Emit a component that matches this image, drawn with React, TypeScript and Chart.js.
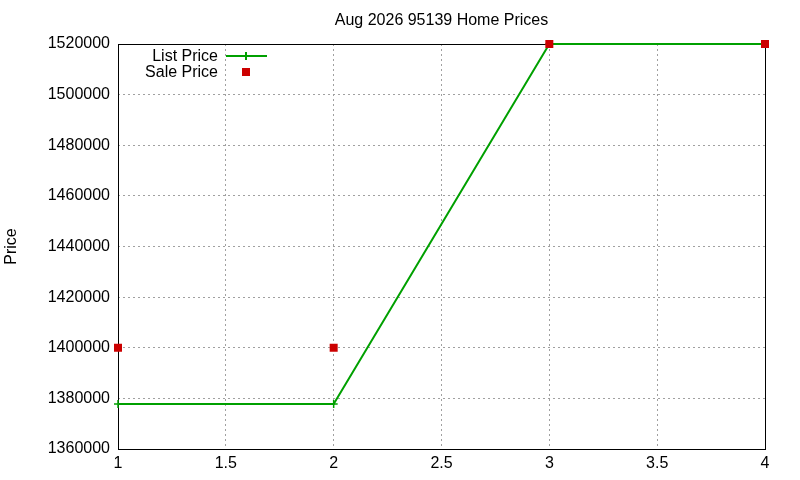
import { useEffect, useRef } from "react";
import { Chart, registerables } from "chart.js";

Chart.register(...registerables);

const chartTitle = "Aug 2026 95139 Home Prices";
const xValues = [1, 2, 3, 4];
const listPrices = [1377800, 1377800, 1520000, 1520000];
const salePrices = [1400000, 1400000, 1520000, 1520000];
const yTicks = [1360000, 1380000, 1400000, 1420000, 1440000, 1460000, 1480000, 1500000, 1520000];
const xTicks = [1, 1.5, 2, 2.5, 3, 3.5, 4];

const FONT = "'Liberation Sans', Arial, sans-serif";
const GREEN = "#00a000";
const RED = "#cc0000";

// gnuplot style box around the plot, drawn under the data
const borderBox = {
    id: "borderBox",
    beforeDatasetsDraw(chart: any) {
        const { ctx, chartArea } = chart;
        ctx.save();
        ctx.strokeStyle = "#000";
        ctx.lineWidth = 1;
        ctx.strokeRect(
            Math.round(chartArea.left) + 0.5,
            Math.round(chartArea.top) + 0.5,
            Math.round(chartArea.right - chartArea.left),
            Math.round(chartArea.bottom - chartArea.top)
        );
        ctx.restore();
    },
};

// title centred over the plot area, and the key in the top-left corner
const keyBox = {
    id: "keyBox",
    afterDraw(chart: any) {
        const { ctx, chartArea } = chart;
        const textRight = 218;
        const sampleX = 246;
        ctx.save();
        ctx.font = `16px ${FONT}`;
        ctx.fillStyle = "#000";
        ctx.textAlign = "center";
        ctx.textBaseline = "middle";
        ctx.fillText(chartTitle, (chartArea.left + chartArea.right) / 2, 21);

        ctx.textAlign = "right";
        ctx.fillText(chart.data.datasets[0].label, textRight, 57);
        ctx.fillText(chart.data.datasets[1].label, textRight, 73);

        ctx.strokeStyle = GREEN;
        ctx.lineWidth = 2;
        ctx.beginPath();
        ctx.moveTo(226, 56);
        ctx.lineTo(267, 56);
        ctx.moveTo(sampleX, 52);
        ctx.lineTo(sampleX, 60);
        ctx.stroke();

        ctx.fillStyle = RED;
        ctx.fillRect(sampleX - 4, 68, 8, 8);
        ctx.restore();
    },
};

export default function App() {
    const canvasRef = useRef<HTMLCanvasElement>(null);

    useEffect(() => {
        document.body.style.margin = "0";
        const ctx = canvasRef.current?.getContext("2d");
        if (!ctx) return;

        const chart = new Chart(ctx, {
            type: "scatter",
            data: {
                datasets: [
                    {
                        label: "List Price",
                        data: xValues.map((x, i) => ({ x, y: listPrices[i] })),
                        showLine: true,
                        borderColor: GREEN,
                        backgroundColor: GREEN,
                        borderWidth: 2,
                        pointStyle: "cross",
                        pointRadius: 4,
                        pointBorderWidth: 1.5,
                        pointBorderColor: GREEN,
                        clip: false,
                        order: 1,
                    },
                    {
                        label: "Sale Price",
                        data: xValues.map((x, i) => ({ x, y: salePrices[i] })),
                        showLine: false,
                        pointStyle: "rect",
                        pointRadius: 5.66,
                        pointBackgroundColor: RED,
                        pointBorderWidth: 0,
                        clip: false,
                        order: 0,
                    },
                ],
            },
            options: {
                animation: false,
                responsive: false,
                layout: { padding: { left: 0, right: 35, top: 44, bottom: 0 } },
                scales: {
                    x: {
                        type: "linear",
                        min: 1,
                        max: 4,
                        afterBuildTicks: (scale: any) => {
                            scale.ticks = xTicks.map((v) => ({ value: v }));
                        },
                        afterFit: (scale: any) => {
                            scale.height = 31;
                        },
                        border: { display: false, dash: [2, 3] },
                        grid: {
                            color: "#a0a0a0",
                            lineWidth: 1,
                            drawTicks: false,
                        },
                        ticks: {
                            color: "#000",
                            padding: 5,
                            font: { family: FONT, size: 16 },
                            callback: (v: any) => String(v),
                        },
                    },
                    y: {
                        type: "linear",
                        min: 1360000,
                        max: 1520000,
                        afterBuildTicks: (scale: any) => {
                            scale.ticks = yTicks.map((v) => ({ value: v }));
                        },
                        afterFit: (scale: any) => {
                            scale.width = 118;
                        },
                        border: { display: false, dash: [2, 3] },
                        grid: {
                            color: "#a0a0a0",
                            lineWidth: 1,
                            drawTicks: false,
                        },
                        ticks: {
                            color: "#000",
                            padding: 8,
                            font: { family: FONT, size: 16 },
                            callback: (v: any) => String(v),
                        },
                        title: {
                            display: true,
                            text: "Price",
                            color: "#000",
                            padding: { top: 2.4, bottom: 0 },
                            font: { family: FONT, size: 16 },
                        },
                    },
                },
                plugins: {
                    legend: { display: false },
                    tooltip: { enabled: false },
                    title: { display: false },
                },
            },
            plugins: [borderBox, keyBox],
        });

        return () => chart.destroy();
    }, []);

    return (
        <div style={{ width: 800, height: 480, background: "#fff" }}>
            <canvas ref={canvasRef} width={800} height={480} />
        </div>
    );
}
